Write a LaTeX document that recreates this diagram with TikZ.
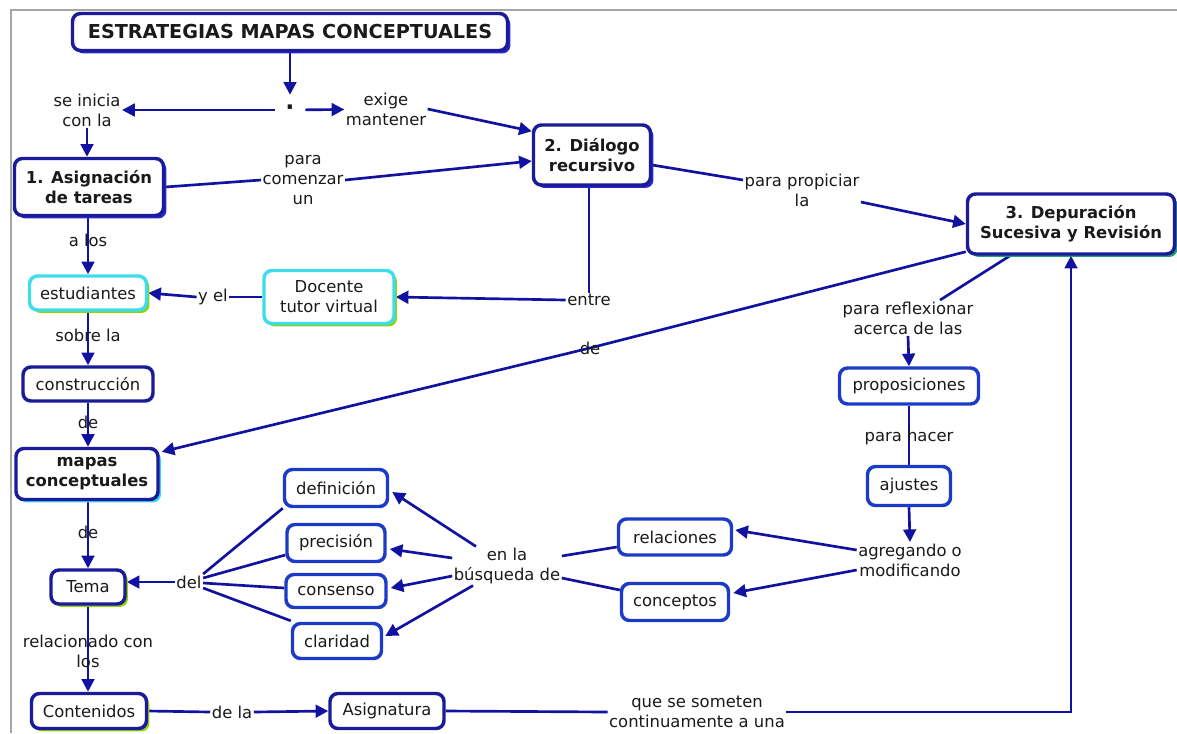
\documentclass[tikz,border=0pt]{standalone}
\usepackage{fontspec}
\setmainfont{DejaVu Sans}
\usetikzlibrary{arrows.meta,shadows,calc,backgrounds}
\definecolor{conn}{HTML}{1212A0}
\definecolor{bordA}{HTML}{1A1A9A}
\definecolor{bordB}{HTML}{1C3CC8}
\definecolor{bordC}{HTML}{3FDDEB}
\definecolor{shBlue}{HTML}{2A2AC8}
\definecolor{shGreen}{HTML}{8FD400}
\definecolor{shCyan}{HTML}{30D8F0}
\definecolor{shTeal}{HTML}{20A070}
\definecolor{ink}{HTML}{1A1A1A}
\begin{document}
\begin{tikzpicture}[x=0.75pt,y=-0.75pt,
  every node/.style={text=ink, font=\fontsize{12.3}{15}\selectfont},
  sz/.style 2 args={minimum width=#1*0.75pt, minimum height=#2*0.75pt},
  cbox/.style={draw=bordB, line width=2.6pt, rounded corners=6pt, fill=white, align=center, inner sep=0pt},
  mainbox/.style={cbox, draw=bordA, font=\fontsize{12.3}{15}\selectfont\bfseries},
  cyanbox/.style={cbox, draw=bordC},
  lbl/.style={align=center, inner sep=1pt},
  shb/.style={drop shadow={shadow xshift=2.2pt, shadow yshift=-2.2pt, fill=#1, opacity=1}},
  ln/.style={draw=conn, line width=2pt},
  ar/.style={ln, -{Triangle[length=9.5pt,width=9.5pt]}},
]
\useasboundingbox (0,0) rectangle (1177,733);
\draw[gray!70, line width=1.5pt] (11,733) -- (11,10) -- (1177,10);

% concept boxes
\node[mainbox, sz={435}{37}, font=\fontsize{14.4}{17}\selectfont\bfseries, shb=shBlue] (title) at (290,32) {ESTRATEGIAS MAPAS CONCEPTUALES};
\node[mainbox, sz={149}{57}, shb=shBlue] (asig) at (89,187) {1. Asignación\\de tareas};
\node[mainbox, sz={117}{60}, shb=shBlue] (dial) at (592,155) {2. Diálogo\\recursivo};
\node[mainbox, sz={207}{60}, shb=shTeal] (dep) at (1071,224) {3. Depuración\\Sucesiva y Revisión};
\node[cyanbox, sz={117}{34}, shb=shGreen] (est) at (88,293) {estudiantes};
\node[cyanbox, sz={130}{53}, shb=shGreen] (doc) at (329,297) {Docente\\tutor virtual};
\node[cbox, draw=bordA, sz={130}{34}] (constr) at (88,384) {construcción};
\node[mainbox, sz={142}{51}, shb=shCyan] (mapas) at (87,474) {mapas\\conceptuales};
\node[cbox, sz={103}{37}] (def) at (336,488) {definición};
\node[cbox, sz={98}{37}] (prec) at (336,543) {precisión};
\node[cbox, sz={100}{33}] (consen) at (336,591) {consenso};
\node[cbox, sz={89}{35}] (clar) at (337,641) {claridad};
\node[cbox, draw=bordA, sz={74}{34}, shb=shGreen] (tema) at (88,587) {Tema};
\node[cbox, draw=bordA, sz={115}{35}, shb=shGreen] (cont) at (89,711) {Contenidos};
\node[cbox, draw=bordA, sz={114}{35}] (asigna) at (387,711) {Asignatura};
\node[cbox, sz={139}{36}] (prop) at (909,386) {proposiciones};
\node[cbox, sz={83}{39}] (aju) at (909,486) {ajustes};
\node[cbox, sz={113}{36}] (rel) at (675,537) {relaciones};
\node[cbox, sz={107}{37}] (conc) at (675,602) {conceptos};

% linking phrases
\node[lbl, sz={30}{30}, inner sep=0pt, font=\fontsize{18}{18}\selectfont\bfseries] (dot) at (290,110) {·};
\node[lbl] (seinicia) at (87,110) {se inicia\\con la};
\node[lbl] (exige) at (386,109) {exige\\mantener};
\node[lbl] (paracom) at (303,180) {para\\comenzar\\un};
\node[lbl] (paraprop) at (802,190) {para propiciar\\la};
\node[lbl] (alos) at (88,240) {a los};
\node[lbl] (yel) at (213,297) {y el};
\node[lbl] (entre) at (589,300) {entre};
\node[lbl] (sobrela) at (88,335) {sobre la};
\node[lbl] (de1) at (88,422) {de};
\node[lbl] (de2) at (590,348) {de};
\node[lbl] (parareflex) at (908,318) {para reflexionar\\acerca de las};
\node[lbl] (parahacer) at (909,437) {para hacer};
\node[lbl] (de3) at (88,532) {de};
\node[lbl] (del) at (189,582) {del};
\node[lbl] (enla) at (507,566) {en la\\búsqueda de};
\node[lbl] (agregando) at (910,560) {agregando o\\modificando};
\node[lbl] (relac) at (88,651) {relacionado con\\los};
\node[lbl] (dela) at (232,712) {de la};
\node[lbl] (quese) at (697,712) {que se someten\\continuamente a una};

\begin{pgfonlayer}{background}
\draw[ar] (title) -- (dot);
\draw[ar] (dot) -- (seinicia);
\draw[ar] (dot) -- (exige);
\draw[ar] (seinicia.south) -- (seinicia.south |- asig.north);
\draw[ar] (exige.east) -- ($(dial.north west)+(0,8)$);
\draw[ln] (asig.east) -- (paracom.west);
\draw[ar] (paracom.east) -- ($(dial.west)+(0,6)$);
\draw[ln] ($(dial.east)+(0,10)$) -- ($(paraprop.west)+(0,-10)$);
\draw[ar] ($(paraprop.east)+(0,12)$) -- (dep.west);
\draw[ar] (alos |- asig.south) -- (alos |- est.north);
\draw[ln] (doc.west) -- (yel.east);
\draw[ar] (yel.west) -- (est.east);
\draw[ln] (dial.south -| entre) -- (entre.north);
\draw[ar] (entre.west) -- (doc.east);
\draw[ar] (sobrela |- est.south) -- (sobrela |- constr.north);
\draw[ar] (de1 |- constr.south) -- (de1 |- mapas.north);
\draw[ln] ($(dep.south west)+(0,-4)$) -- (de2.center);
\draw[ar] (de2.center) -- ($(mapas.north east)+(2,5)$);
\draw[ln] ($(dep.south)+(-61,0)$) -- ($(parareflex.north)+(32,0)$);
\draw[ar] (parareflex.south) -- (prop.north);
\draw[ln] (prop) -- (aju);
\draw[ar] (aju.south) -- (agregando.north);
\draw[ar] ($(agregando.west)+(0,-10)$) -- ($(rel.east)+(2,-7)$);
\draw[ar] ($(agregando.west)+(0,10)$) -- ($(conc.east)+(3,-9)$);
\draw[ln] ($(rel.west)+(0,10)$) -- ($(enla.east)+(0,-10)$);
\draw[ln] ($(conc.west)+(0,-12)$) -- ($(enla.east)+(0,12)$);
\draw[ar] ($(enla.north)+(-31,0)$) -- ($(def.east)+(3,4)$);
\draw[ar] ($(enla.west)+(0,-8)$) -- ($(prec.east)+(3,6)$);
\draw[ar] ($(enla.west)+(0,10)$) -- ($(consen.east)+(3,-3)$);
\draw[ar] ($(enla.south)+(-34,0)$) -- ($(clar.east)+(2,-5)$);
\draw[ln] (def.south west) -- ($(del.east)+(0,-8)$);
\draw[ln] ($(prec.west)+(0,12)$) -- ($(del.east)+(0,-4)$);
\draw[ln] ($(consen.west)+(0,-3)$) -- ($(del.east)+(0,1)$);
\draw[ln] ($(clar.north west)+(0,-1)$) -- ($(del.east)+(0,6)$);
\draw[ar] (del.west) -- (tema.east |- del.west);
\draw[ar] (de3 |- mapas.south) -- (de3 |- tema.north);
\draw[ar] (relac |- tema.south) -- (relac |- cont.north);
\draw[ln] (cont.east) -- (dela.west);
\draw[ar] (dela.east) -- (asigna.west);
\draw[ln] (asigna.east) -- (quese.west);
\draw[ar] (quese.east) -| (dep.south);
\end{pgfonlayer}
\end{tikzpicture}
\end{document}
